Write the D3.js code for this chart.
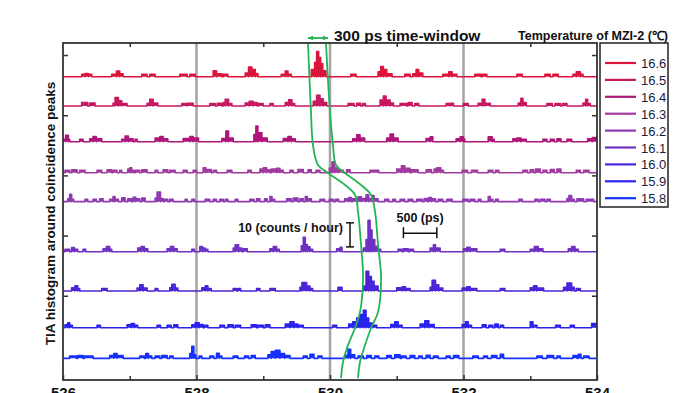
<!DOCTYPE html>
<html><head><meta charset="utf-8">
<script src="https://cdn.jsdelivr.net/npm/d3@7/dist/d3.min.js"></script>
<style>
html,body{margin:0;padding:0;background:#fff;}
svg{display:block;font-family:"Liberation Sans",Arial,sans-serif;}
</style></head>
<body><svg id="c" width="700" height="393"></svg>
<script>
// ---------- data ----------
const temperatures = ["16.6","16.5","16.4","16.3","16.2","16.1","16.0","15.9","15.8"];
const colors = ["#dc143c","#c8185f","#b0157a","#a03a9e","#8f3ab0","#7030c4","#4c24d8","#2a22ee","#1530ff"];
const offsets = [126, 113.8, 99, 86.1, 74.1, 53.3, 37, 21.7, 9];   // vertical offset of each trace (counts)
const xMajorTicks = [526, 528, 530, 532, 534];
const xMinorTicks = [527, 529, 531, 533];
const gridLines = [528, 530, 532];
const yTicks = [35, 60, 85, 110, 135];

// histogram bins: [t0 (ns), t1 (ns), counts/hour]
const s166 = [[526.28,526.33,1],[526.33,526.38,1.3],[526.38,526.43,1],
[526.73,526.80,1],[526.80,526.85,2.3],[526.85,526.90,1.2],
[527.18,527.26,1],[527.30,527.38,1],[527.75,527.86,1],[527.90,527.98,1],
[528.25,528.30,2.4],[528.30,528.38,1.2],[528.40,528.47,1],
[528.73,528.78,1.5],[528.78,528.83,4],[528.83,528.88,3],[528.88,528.92,1.3],
[529.27,529.33,1],[529.33,529.37,2.3],[529.37,529.42,1],
[529.72,529.77,3],[529.77,529.80,6],[529.80,529.83,10.5],[529.83,529.86,8],[529.86,529.89,5.5],[529.89,529.94,2.5],
[530.31,530.39,1],
[530.72,530.76,2],[530.76,530.80,4.2],[530.80,530.85,3],[530.85,530.93,1.2],
[531.12,531.20,1],[531.24,531.29,1.2],[531.29,531.33,3],[531.33,531.39,1.5],
[531.69,531.78,1],[531.78,531.83,2],[531.83,531.90,1],
[532.17,532.26,1],[532.28,532.35,1],[532.80,532.88,1],
[533.22,533.30,1],[533.34,533.42,1],
[533.64,533.69,1],[533.69,533.75,2],[533.75,533.79,1]];
const s165 = [[526.28,526.37,1.5],[526.40,526.48,1.3],
[526.75,526.78,1.2],[526.78,526.83,3.5],[526.83,526.88,2.2],[526.88,526.96,1],
[527.26,527.30,1.2],[527.30,527.35,2.8],[527.35,527.42,1.3],
[527.78,527.86,1],[527.86,527.95,1.2],
[528.20,528.28,1],[528.31,528.38,1.2],[528.40,528.43,1.5],[528.43,528.48,2.8],[528.48,528.53,1],
[528.73,528.79,1.3],[528.79,528.85,2],[528.85,528.91,1.5],[528.93,529.00,1],
[529.10,529.15,1],
[529.33,529.38,1.5],[529.38,529.43,2.6],[529.43,529.47,1],
[529.75,529.80,2],[529.80,529.85,4.5],[529.85,529.90,3],[529.90,529.95,1.5],
[530.27,530.36,1],[530.40,530.46,1.2],[530.49,530.53,1],
[530.75,530.80,2.5],[530.80,530.84,4.2],[530.84,530.90,2.5],[530.90,530.95,1.3],
[531.05,531.15,1],[531.17,531.23,1.5],[531.27,531.33,1],
[531.74,531.80,1],[531.80,531.85,1.2],
[532.00,532.07,1],[532.22,532.28,1.2],[532.28,532.32,2.8],[532.32,532.40,1.2],
[532.82,532.86,1.3],[532.86,532.89,3.2],[532.89,532.94,1.5],
[533.25,533.33,1],[533.37,533.45,1],[533.48,533.55,1],
[533.79,533.83,1.3],[533.83,533.86,2.8],[533.86,533.90,1]];
const s164 = [[526.00,526.04,1],[526.04,526.08,2.7],[526.08,526.10,1],
[526.25,526.30,1],
[526.40,526.45,1.2],[526.45,526.50,2.1],[526.50,526.58,1.2],
[526.88,526.93,1],[526.93,526.98,2.3],[526.98,527.05,1.2],[527.08,527.11,1],
[527.38,527.45,1.5],[527.45,527.50,2.1],[527.50,527.57,1.2],
[527.80,527.90,1.3],[527.90,527.95,2.1],[527.95,528.03,1.5],
[528.38,528.44,1.3],[528.44,528.48,4.4],[528.48,528.55,1.5],
[528.86,528.89,3],[528.89,528.92,6.5],[528.92,528.98,3.7],[528.98,529.06,1.5],
[529.30,529.37,1.3],[529.37,529.42,2.1],[529.42,529.48,1.2],
[530.34,530.40,1.2],[530.40,530.45,2.9],[530.45,530.52,1.5],
[530.85,530.90,1.5],[530.90,530.95,3.2],[530.95,531.02,1.5],
[531.44,531.50,1.3],[531.50,531.54,2],
[531.89,531.95,1.2],[531.95,532.00,2],[532.00,532.02,1],
[532.37,532.43,2],[532.43,532.46,1],
[532.74,532.80,1.2],[532.80,532.86,1.5],[532.86,532.94,1],
[533.19,533.25,1],[533.30,533.36,1],[533.40,533.46,1.2],[533.55,533.62,1],
[533.86,533.93,1.2],[533.93,534.00,1.7]];
const s163 = [[526.03,526.10,1],[526.13,526.21,1.2],[526.25,526.33,1],
[526.51,526.58,1],[526.66,526.73,1.2],[526.75,526.81,1],[526.85,526.88,1],
[526.97,527.00,1.5],[527.00,527.03,2.1],[527.03,527.06,1],
[527.08,527.15,1],[527.18,527.26,1.2],
[527.38,527.42,1],[527.50,527.57,1.2],[527.60,527.68,1],
[527.80,527.86,1],[527.95,528.00,1],
[528.10,528.14,2.1],[528.14,528.22,1.3],[528.25,528.30,1],
[528.46,528.53,1],
[528.77,528.82,1],[528.95,529.00,1.5],[529.00,529.05,2.1],[529.05,529.10,1.2],
[529.12,529.20,1.5],[529.20,529.25,1.8],[529.25,529.30,1],
[529.40,529.45,1],[529.52,529.60,1.3],[529.67,529.72,1.2],[529.79,529.85,1],
[529.99,530.03,2],[530.03,530.07,4.5],[530.07,530.12,2],[530.12,530.20,1],[530.25,530.30,1.2],
[530.60,530.73,1],
[531.00,531.07,1.5],[531.07,531.12,2.9],[531.12,531.20,1.8],[531.22,531.32,1.2],
[531.44,531.52,1.2],[531.56,531.60,1.5],[531.60,531.66,2.1],[531.66,531.70,1],
[531.98,532.06,1],[532.12,532.21,1],
[532.37,532.44,1],[532.48,532.53,1],
[532.89,532.96,1],[533.00,533.05,1.2],[533.08,533.15,1.5],[533.19,533.25,1],[533.30,533.36,1.3],[533.40,533.46,1.5],
[533.69,533.75,1],[533.80,533.88,1]];
const s162 = [[526.07,526.10,1.2],[526.10,526.13,3],[526.13,526.16,1],
[526.33,526.37,1],[526.45,526.50,1],[526.55,526.60,1.2],
[526.70,526.75,1],[526.75,526.78,2.1],[526.78,526.83,1],
[526.88,526.93,1.6],[526.97,527.03,1.2],[527.05,527.09,1.8],[527.09,527.15,1.2],[527.18,527.23,1.5],
[527.38,527.41,1.5],[527.41,527.46,4],[527.46,527.50,1.3],[527.52,527.57,1],[527.60,527.65,1],
[527.83,527.86,1],[527.93,527.97,1],
[528.13,528.20,1],[528.25,528.30,1],[528.35,528.40,1],[528.43,528.47,1],[528.58,528.62,1],
[528.80,528.86,1],[528.90,528.95,1.2],[529.02,529.06,1.2],[529.10,529.13,2.1],[529.13,529.17,1],
[529.35,529.42,1.2],[529.45,529.52,1.5],[529.55,529.60,1.2],[529.63,529.66,2.1],[529.66,529.72,1.2],
[529.85,529.92,1],[529.99,530.05,1],[530.08,530.13,1],
[530.22,530.28,1.2],[530.28,530.32,1.7],
[530.34,530.42,1.2],[530.42,530.47,2],[530.47,530.54,1.3],[530.54,530.58,2.8],[530.58,530.63,1.3],[530.63,530.66,2.5],[530.66,530.72,1.2],
[530.82,530.88,1],[530.94,530.98,1],[531.05,531.12,1],[531.17,531.24,1],
[531.30,531.38,1],[531.41,531.46,1.3],[531.48,531.52,1.7],[531.52,531.58,1.2],[531.62,531.69,1],[531.75,531.83,1],
[531.99,532.07,1],[532.10,532.17,1],[532.22,532.26,1],[532.37,532.40,2.1],[532.40,532.44,1],[532.48,532.52,1],
[532.83,532.88,1],[533.07,533.12,1],[533.15,533.22,1],[533.25,533.30,1],
[533.55,533.58,1.3],[533.58,533.62,2.5],[533.62,533.66,1],[533.70,533.80,1.2],[533.84,533.95,1]];
const s161 = [[526.03,526.10,1],[526.13,526.17,1.7],[526.17,526.22,1],[526.30,526.34,1],
[526.60,526.65,1.2],[526.65,526.70,2.1],[526.70,526.73,1],
[527.12,527.17,1.5],[527.17,527.22,2.1],[527.22,527.27,1.2],
[527.56,527.61,1.2],[527.61,527.66,2.1],[527.66,527.71,1.2],
[527.93,527.97,1],[528.05,528.09,2.1],[528.09,528.13,1.5],[528.13,528.17,1],
[528.55,528.58,1.5],[528.58,528.63,2.9],[528.63,528.68,1.5],[528.70,528.76,1.2],
[529.10,529.15,1.2],[529.15,529.20,2.1],[529.20,529.24,1],
[529.57,529.60,2.5],[529.60,529.63,6],[529.63,529.66,3],[529.66,529.70,2],[529.70,529.74,1],
[530.10,530.15,1.2],[530.15,530.18,1.8],
[530.50,530.54,1.5],[530.54,530.57,5],[530.57,530.60,13],[530.60,530.63,9],[530.63,530.67,5],[530.67,530.72,2.2],[530.72,530.76,1],
[531.02,531.08,1],[531.10,531.17,1.2],[531.19,531.25,1],
[531.50,531.55,1.5],[531.55,531.58,2.9],[531.58,531.65,1.5],
[532.00,532.05,1.2],[532.05,532.10,1.8],[532.10,532.20,1.2],
[532.55,532.62,1],
[533.00,533.06,1],[533.06,533.12,2.1],[533.12,533.19,1.2],
[533.57,533.62,1.2],[533.62,533.67,2.1],[533.67,533.72,1]];
const s160 = [[526.13,526.18,1.3],[526.18,526.22,2.1],[526.22,526.25,1],
[526.58,526.66,1],
[527.11,527.15,1.2],[527.15,527.20,2.5],[527.20,527.26,1.2],
[527.38,527.42,1],
[527.60,527.63,1.3],[527.63,527.68,2.8],[527.68,527.72,1.2],
[528.08,528.13,1.3],[528.13,528.17,2.1],[528.17,528.22,1],
[528.55,528.60,1],[528.62,528.66,1],
[528.90,528.95,1],[529.10,529.18,1],
[529.55,529.58,1.5],[529.58,529.65,3.5],[529.65,529.70,2],[529.70,529.74,1],
[530.12,530.18,1.5],
[530.50,530.54,2],[530.54,530.58,8.2],[530.58,530.62,6],[530.62,530.66,4],[530.66,530.72,2],
[531.00,531.08,1.3],[531.08,531.13,1.7],[531.13,531.20,1],
[531.50,531.53,1.5],[531.53,531.58,4.4],[531.58,531.63,2.5],[531.63,531.69,1.2],
[531.98,532.05,1.2],[532.05,532.10,1.7],[532.10,532.20,1],
[532.55,532.62,1],
[533.00,533.05,1.3],[533.05,533.10,2.1],[533.10,533.20,1.2],
[533.50,533.55,1.5],[533.55,533.62,3.3],[533.62,533.66,1.5],[533.69,533.75,1]];
const s159 = [[526.03,526.07,1.2],[526.07,526.10,2.1],[526.10,526.14,1],
[526.51,526.56,1],
[526.96,527.02,1.2],[527.02,527.07,1.8],[527.07,527.12,1],
[527.41,527.46,1],[527.56,527.62,1],[527.66,527.72,1.2],
[527.93,527.98,1.2],[527.98,528.04,2.1],[528.04,528.10,1.3],[528.12,528.17,1],
[528.35,528.42,1],[528.47,528.55,1.2],[528.58,528.66,1],
[528.82,528.90,1.2],[528.92,529.00,1],[529.03,529.10,1.2],
[529.33,529.40,1.5],[529.40,529.46,2.5],[529.46,529.52,1.5],[529.52,529.60,1],
[530.04,530.10,1],
[530.28,530.34,1.5],[530.34,530.40,2.5],[530.40,530.45,4],[530.45,530.50,5.5],[530.50,530.54,7.3],[530.54,530.58,4],[530.58,530.64,2],[530.64,530.70,1],
[530.91,530.97,1.3],[530.97,531.02,2.5],[531.02,531.08,1],
[531.35,531.42,1.5],[531.42,531.48,2.9],[531.48,531.56,1.3],
[531.98,532.03,1.3],[532.03,532.07,2.5],[532.07,532.12,1],
[532.28,532.34,1.2],[532.38,532.44,1],[532.47,532.52,1.5],[532.55,532.60,1],
[533.00,533.04,2.5],[533.04,533.10,1],
[533.38,533.45,1],[533.60,533.66,1],[533.92,534.00,1.7]];
const s158 = [[526.10,526.20,1],[526.22,526.30,1.2],[526.32,526.45,1],
[526.70,526.76,1.2],[526.76,526.81,2],[526.81,526.90,1.2],
[527.15,527.22,1],[527.24,527.28,2],[527.28,527.33,1],[527.38,527.45,1],
[527.48,527.56,1.2],[527.60,527.65,1],
[527.90,527.93,2],[527.93,527.96,5],[527.96,527.99,1.5],[528.04,528.08,1],
[528.20,528.26,1],[528.30,528.34,2.1],[528.34,528.38,1],
[528.55,528.62,1],[528.72,528.78,1],[528.82,528.88,1.2],
[529.07,529.12,1.5],[529.12,529.18,2.8],[529.18,529.25,3.3],[529.25,529.32,2],[529.32,529.40,1.2],
[529.60,529.66,1],[529.70,529.76,1.7],[529.82,529.88,1],
[530.22,530.27,1.3],[530.27,530.31,3.8],[530.31,530.37,1.5],[530.42,530.50,1],[530.55,530.62,1.2],[530.67,530.73,1],
[530.85,530.92,1.2],[530.97,531.05,1.5],[531.07,531.14,1],[531.20,531.27,1.2],[531.33,531.38,1],[531.44,531.50,1.3],[531.55,531.62,1],
[531.74,531.80,1],[531.85,531.93,1.2],
[532.14,532.22,1],[532.30,532.36,1],[532.42,532.50,1.2],[532.55,532.60,1.7],
[533.10,533.18,1],[533.25,533.35,1.2],[533.40,533.45,1],
[533.64,533.70,1.2],[533.72,533.76,1.7],[533.80,533.88,1]];
const seriesBins = [s166, s165, s164, s163, s162, s161, s160, s159, s158];

// 300 ps time-window guide curves: [time (ns), vertical position (counts)]
const windowLeft = [[529.670,140],[529.715,111.3],[529.745,97.6],[529.820,89.3],[529.970,86.0],[530.225,81.0],[530.375,76.9],[530.420,69.8],[530.465,56.1],[530.495,42.4],[530.450,28.3],[530.375,21.6],[530.270,14.5],[530.195,7.5],[530.165,0.8]];
const windowRight = [[529.940,140],[530.000,111.3],[530.045,97.6],[530.090,89.3],[530.225,86.0],[530.465,81.0],[530.615,76.9],[530.675,69.8],[530.720,56.1],[530.765,42.4],[530.720,28.3],[530.615,21.6],[530.525,14.5],[530.450,7.5],[530.420,0.8]];
const windowArrow = [529.67, 529.97];
const countScaleBar = {t: 530.30, from: 55.3, to: 65.3, label: "10 (counts / hour)"};
const timeScaleBar = {from: 531.10, to: 531.60, level: 61, label: "500 (ps)"};

// ---------- drawing ----------
const svg = d3.select("#c");
const L = 63, R = 597, T = 43, B = 380;
const x = d3.scaleLinear().domain([526, 534]).range([L, R]);
const y = d3.scaleLinear().domain([0, 140]).range([B, T]);

const defs = svg.append("defs");
defs.append("clipPath").attr("id","clip").append("rect").attr("x",L).attr("y",T-2).attr("width",R-L).attr("height",B-T+2);
const mk = defs.append("marker").attr("id","ah").attr("viewBox","0 0 10 10").attr("refX",9).attr("refY",5)
  .attr("markerUnits","userSpaceOnUse").attr("markerWidth",6).attr("markerHeight",6).attr("orient","auto-start-reverse");
mk.append("path").attr("d","M0,1L10,5L0,9z").attr("fill","#1fb34f");

// grid lines
svg.append("g").selectAll("line").data(gridLines).join("line")
  .attr("x1", d=>x(d)).attr("x2", d=>x(d)).attr("y1", T).attr("y2", B)
  .attr("stroke","#a3a3a3").attr("stroke-width",2.5);

// traces
const traces = svg.append("g").attr("clip-path","url(#clip)");
seriesBins.forEach((bins, i) => {
  const pts = [[526, 0]];
  bins.forEach(b => { pts.push([b[0],0],[b[0],b[2]],[b[1],b[2]],[b[1],0]); });
  pts.push([534, 0]);
  const off = offsets[i];
  const area = d3.area().x(d=>x(d[0])).y0(y(off)).y1(d=>y(off + d[1]));
  const line = d3.line().x(d=>x(d[0])).y(d=>y(off + d[1]));
  traces.append("path").attr("d", area(pts)).attr("fill", colors[i]).attr("stroke","none");
  traces.append("path").attr("d", line(pts)).attr("fill","none").attr("stroke", colors[i])
    .attr("stroke-width",1.6).attr("stroke-linejoin","round");
});

// window curves
const wl = d3.line().x(d=>x(d[0])).y(d=>y(d[1])).curve(d3.curveCatmullRom.alpha(0.5));
[windowLeft, windowRight].forEach(c => {
  svg.append("path").attr("d", wl(c)).attr("fill","none").attr("stroke","#22b553").attr("stroke-width",1.8);
});
svg.append("line").attr("x1", x(windowArrow[0])).attr("x2", x(windowArrow[1]))
  .attr("y1", 38).attr("y2", 38).attr("stroke","#1fb34f").attr("stroke-width",1.8)
  .attr("marker-start","url(#ah)").attr("marker-end","url(#ah)");

// frame
svg.append("rect").attr("x",L).attr("y",T).attr("width",R-L).attr("height",B-T)
  .attr("fill","none").attr("stroke","#333").attr("stroke-width",1.8);

// axes
function styleAxis(g){ g.select(".domain").remove(); g.selectAll("line").attr("stroke","#333").attr("stroke-width",1.5); return g; }
const axB = svg.append("g").attr("transform",`translate(0,${B})`)
  .call(d3.axisBottom(x).tickValues(xMajorTicks).tickSize(-5).tickPadding(7).tickFormat(d3.format("d")));
styleAxis(axB);
axB.selectAll("text").attr("font-size",15).attr("font-weight","bold").attr("fill","#111")
  .attr("font-family","Liberation Sans, Arial, sans-serif");
styleAxis(svg.append("g").attr("transform",`translate(0,${B})`)
  .call(d3.axisBottom(x).tickValues(xMinorTicks).tickSize(-4).tickFormat("")));
styleAxis(svg.append("g").attr("transform",`translate(0,${T})`)
  .call(d3.axisTop(x).tickValues(xMinorTicks).tickSize(-4).tickFormat("")));
styleAxis(svg.append("g").attr("transform",`translate(${L},0)`)
  .call(d3.axisLeft(y).tickValues(yTicks).tickSize(-5).tickFormat("")));
styleAxis(svg.append("g").attr("transform",`translate(${R},0)`)
  .call(d3.axisRight(y).tickValues(yTicks).tickSize(-5).tickFormat("")));

// y label
svg.append("text").attr("transform",`translate(55,${(y(0)+y(140))/2 + 2}) rotate(-90)`)
  .attr("text-anchor","middle").attr("font-size",13.5).attr("font-weight","bold").attr("fill","#111")
  .text("TIA histogram around coincidence peaks");

// titles
svg.append("text").attr("x",334).attr("y",41).attr("font-size",15.5).attr("font-weight","bold").attr("fill","#111")
  .text("300 ps time-window");
svg.append("text").attr("x",668).attr("y",40).attr("text-anchor","end").attr("font-size",12.5).attr("font-weight","bold").attr("fill","#111")
  .text("Temperature of MZI-2 (℃)");

// count scale bar
const cb = svg.append("g").attr("stroke","#111").attr("stroke-width",1.5);
cb.append("line").attr("x1",x(countScaleBar.t)).attr("x2",x(countScaleBar.t)).attr("y1",y(countScaleBar.from)).attr("y2",y(countScaleBar.to));
[countScaleBar.from, countScaleBar.to].forEach(v => cb.append("line")
  .attr("x1",x(countScaleBar.t)-4).attr("x2",x(countScaleBar.t)+4).attr("y1",y(v)).attr("y2",y(v)));
svg.append("text").attr("x",343).attr("y",232).attr("text-anchor","end").attr("font-size",12.5).attr("font-weight","bold").attr("fill","#111")
  .text(countScaleBar.label);

// time scale bar
const tb = svg.append("g").attr("stroke","#111").attr("stroke-width",1.5);
tb.append("line").attr("x1",x(timeScaleBar.from)).attr("x2",x(timeScaleBar.to)).attr("y1",y(timeScaleBar.level)).attr("y2",y(timeScaleBar.level));
[timeScaleBar.from, timeScaleBar.to].forEach(v => tb.append("line")
  .attr("x1",x(v)).attr("x2",x(v)).attr("y1",y(timeScaleBar.level)-6).attr("y2",y(timeScaleBar.level)+5));
svg.append("text").attr("x",(x(timeScaleBar.from)+x(timeScaleBar.to))/2).attr("y",222).attr("text-anchor","middle")
  .attr("font-size",12.5).attr("font-weight","bold").attr("fill","#111").text(timeScaleBar.label);

// legend
const lg = svg.append("g");
lg.append("rect").attr("x",600).attr("y",43).attr("width",68).attr("height",164)
  .attr("fill","#fff").attr("stroke","#222").attr("stroke-width",1.5);
temperatures.forEach((t, i) => {
  const ly = 63 + i*16.9;
  lg.append("line").attr("x1",605).attr("x2",636).attr("y1",ly).attr("y2",ly).attr("stroke",colors[i]).attr("stroke-width",2.2);
  lg.append("text").attr("x",641).attr("y",ly+5).attr("font-size",13).attr("fill","#1a1a3a").text(t);
});
</script></body></html>
